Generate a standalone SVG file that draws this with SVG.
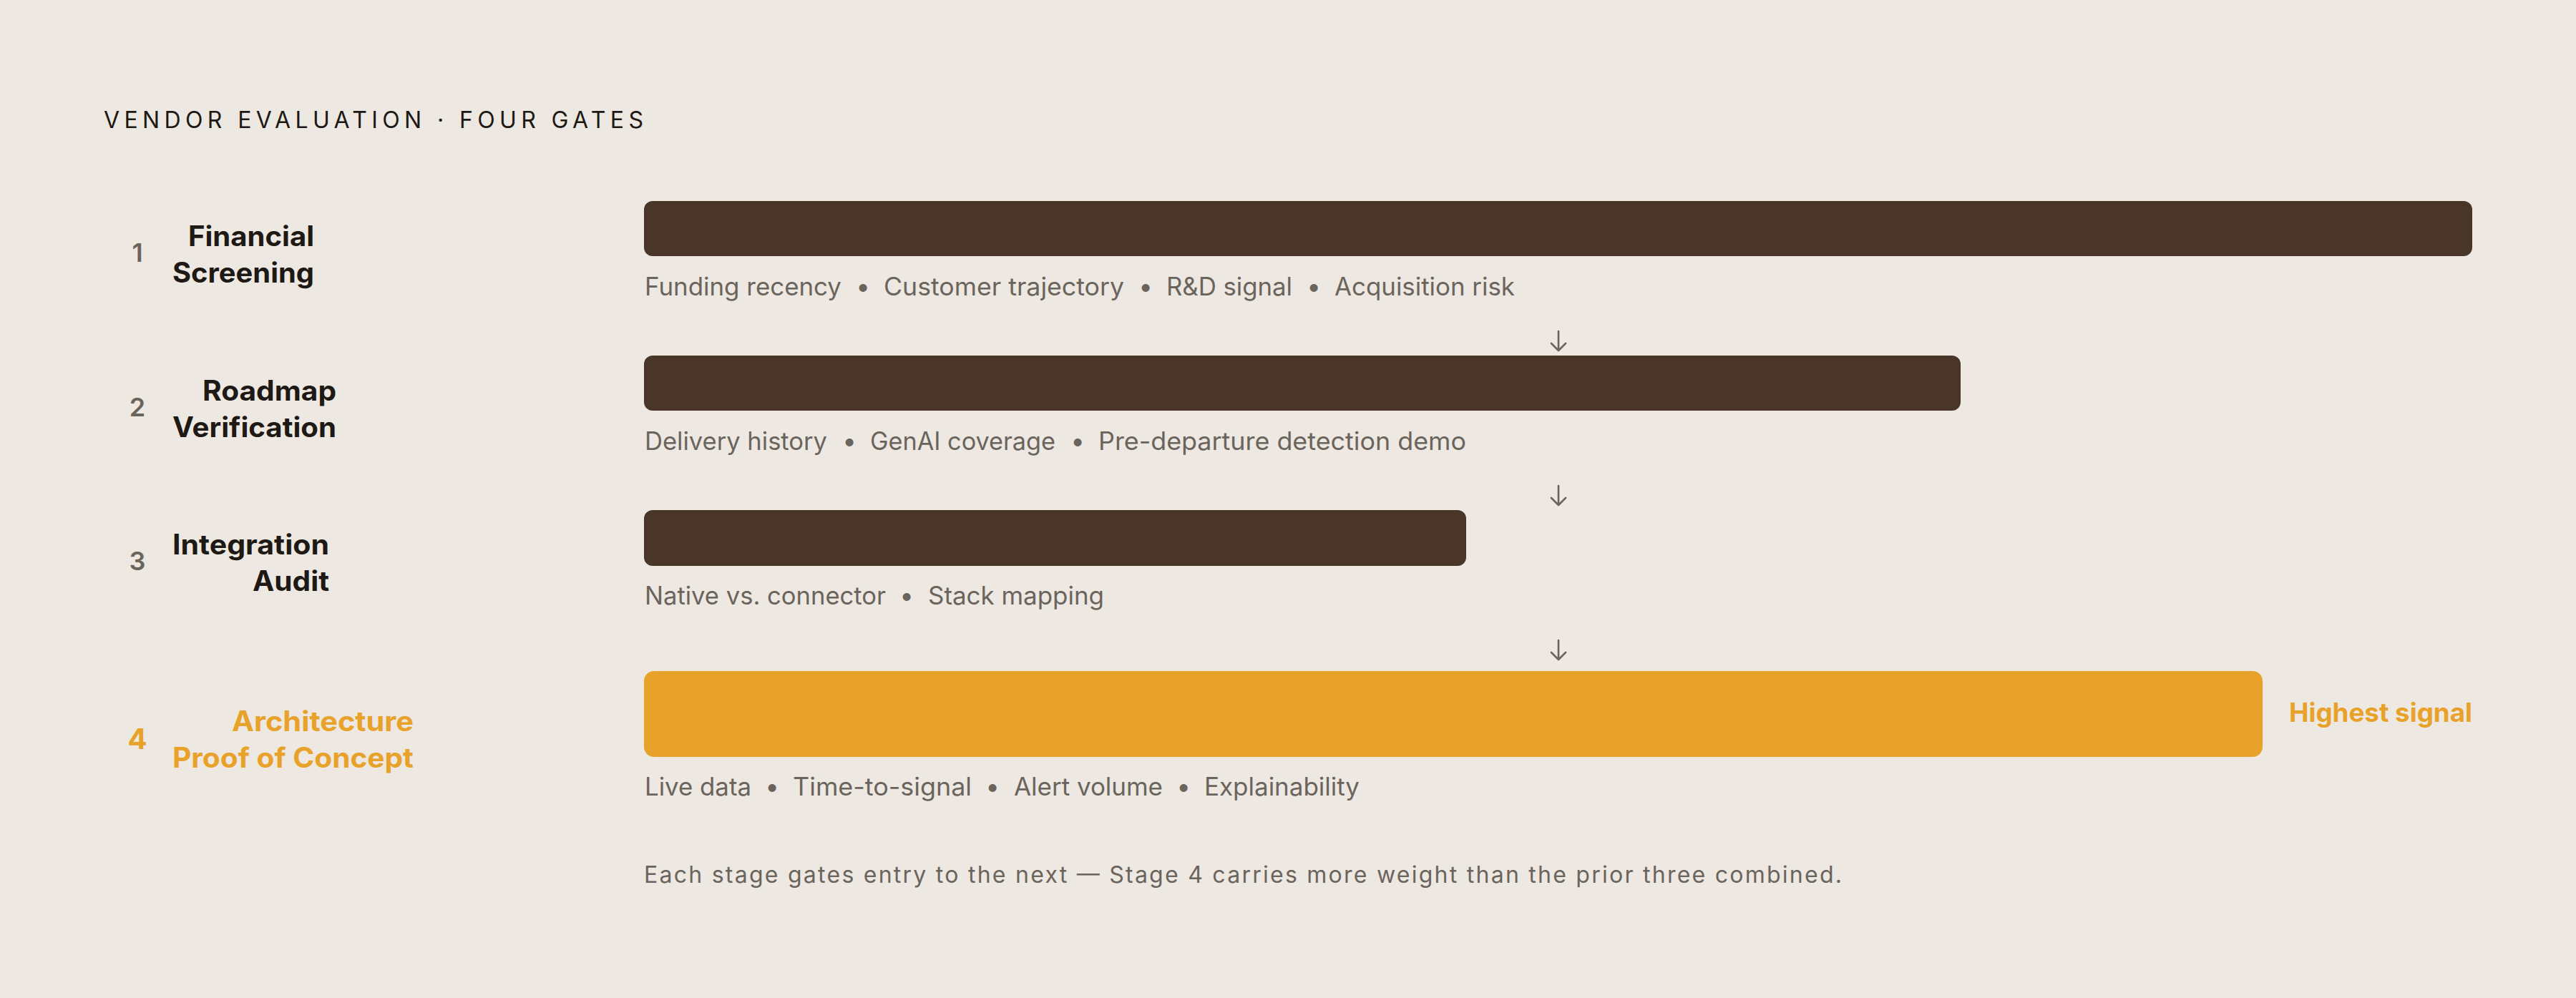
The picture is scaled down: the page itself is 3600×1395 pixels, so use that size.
<svg xmlns="http://www.w3.org/2000/svg" width="3600" height="1395" viewBox="0 0 3600 1395">
<style>
text{font-family:Inter,"Liberation Sans","DejaVu Sans",sans-serif}
.title{font-size:32px;fill:#1E1914;font-weight:400}
.num{font-size:36px;fill:#6B645C;font-weight:600;text-anchor:middle}
.lab{font-size:39px;fill:#1E1914;font-weight:700;text-anchor:end}
.hi{fill:#E8A22A}
.desc{font-size:35px;fill:#6B645C;font-weight:400}
.dot{font-size:35px;fill:#6B645C;text-anchor:middle}
.bar{fill:#4A3628}
.bar4{fill:#E8A22A}
.foot{font-size:32px;fill:#6B645C;font-weight:400}
.arrow{stroke:#6B645C;stroke-width:2.6;fill:none;stroke-linecap:round;stroke-linejoin:round}
</style>
<rect width="3600" height="1395" fill="#EDE8E1"/>
<text class="title" x="145" y="179" textLength="754" lengthAdjust="spacing">VENDOR EVALUATION · FOUR GATES</text>

<g id="stage1">
<text class="num" x="192" y="366">1</text>
<text class="lab" x="439" y="344" textLength="176" lengthAdjust="spacingAndGlyphs">Financial</text>
<text class="lab" x="439" y="395" textLength="198" lengthAdjust="spacingAndGlyphs">Screening</text>
<rect class="bar" x="900" y="281" width="2555" height="77" rx="12"/>
<text class="desc" x="901" y="413" textLength="275" lengthAdjust="spacingAndGlyphs">Funding recency</text>
<text class="dot" x="1206" y="413">•</text>
<text class="desc" x="1235" y="413" textLength="336" lengthAdjust="spacingAndGlyphs">Customer trajectory</text>
<text class="dot" x="1601" y="413">•</text>
<text class="desc" x="1630" y="413" textLength="176" lengthAdjust="spacingAndGlyphs">R&amp;D signal</text>
<text class="dot" x="1836" y="413">•</text>
<text class="desc" x="1865" y="413" textLength="252" lengthAdjust="spacingAndGlyphs">Acquisition risk</text>
</g>

<g id="stage2">
<text class="num" x="192" y="582">2</text>
<text class="lab" x="470" y="560" textLength="187" lengthAdjust="spacingAndGlyphs">Roadmap</text>
<text class="lab" x="470" y="611" textLength="229" lengthAdjust="spacingAndGlyphs">Verification</text>
<rect class="bar" x="900" y="497" width="1840" height="77" rx="12"/>
<text class="desc" x="901" y="629" textLength="255" lengthAdjust="spacingAndGlyphs">Delivery history</text>
<text class="dot" x="1187" y="629">•</text>
<text class="desc" x="1216" y="629" textLength="259" lengthAdjust="spacingAndGlyphs">GenAI coverage</text>
<text class="dot" x="1506" y="629">•</text>
<text class="desc" x="1535" y="629" textLength="514" lengthAdjust="spacingAndGlyphs">Pre-departure detection demo</text>
</g>

<g id="stage3">
<text class="num" x="192" y="797">3</text>
<text class="lab" x="460" y="775" textLength="219" lengthAdjust="spacingAndGlyphs">Integration</text>
<text class="lab" x="460" y="826" textLength="107" lengthAdjust="spacingAndGlyphs">Audit</text>
<rect class="bar" x="900" y="713" width="1149" height="78" rx="12"/>
<text class="desc" x="901" y="845" textLength="337" lengthAdjust="spacingAndGlyphs">Native vs. connector</text>
<text class="dot" x="1267" y="845">•</text>
<text class="desc" x="1297" y="845" textLength="246" lengthAdjust="spacingAndGlyphs">Stack mapping</text>
</g>

<g id="stage4">
<text class="num hi" x="192" y="1047" style="font-size:40px;font-weight:700">4</text>
<text class="lab hi" x="578" y="1022" textLength="254" lengthAdjust="spacingAndGlyphs">Architecture</text>
<text class="lab hi" x="578" y="1073" textLength="337" lengthAdjust="spacingAndGlyphs">Proof of Concept</text>
<rect class="bar4" x="900" y="938" width="2262" height="120" rx="14"/>
<text class="hi" x="3455" y="1009" text-anchor="end" style="font-size:37px;font-weight:700" textLength="256" lengthAdjust="spacingAndGlyphs">Highest signal</text>
<text class="desc" x="901" y="1112" textLength="149" lengthAdjust="spacingAndGlyphs">Live data</text>
<text class="dot" x="1079" y="1112">•</text>
<text class="desc" x="1108" y="1112" textLength="250" lengthAdjust="spacingAndGlyphs">Time-to-signal</text>
<text class="dot" x="1387" y="1112">•</text>
<text class="desc" x="1417" y="1112" textLength="208" lengthAdjust="spacingAndGlyphs">Alert volume</text>
<text class="dot" x="1654" y="1112">•</text>
<text class="desc" x="1683" y="1112" textLength="217" lengthAdjust="spacingAndGlyphs">Explainability</text>
</g>

<g id="connectors">
<path class="arrow" d="M2178 463V490M2168 480L2178 490L2188 480"/>
<path class="arrow" d="M2178 679V706M2168 696L2178 706L2188 696"/>
<path class="arrow" d="M2178 895V922M2168 912L2178 922L2188 912"/>
</g>

<text class="foot" x="900" y="1234" textLength="1674" lengthAdjust="spacing">Each stage gates entry to the next — Stage 4 carries more weight than the prior three combined.</text>
</svg>
